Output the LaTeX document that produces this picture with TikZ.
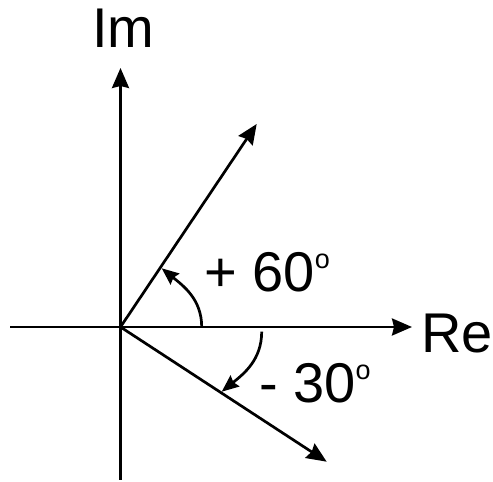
\documentclass[tikz,border=0pt]{standalone}
\usepackage{fontspec}
\setmainfont{Liberation Sans}
\usetikzlibrary{arrows.meta}
\newcommand{\degsup}{\raisebox{0.42em}{\fontsize{27}{27}\selectfont o}}
\begin{document}
\begin{tikzpicture}[x=1pt,y=1pt,
  axis/.style={line width=2.7pt, -{Stealth[length=20pt,width=17pt,inset=2pt]}},
  angarc/.style={line width=2.7pt, -{Stealth[length=17pt,width=14pt,inset=2pt]}},
  lbl/.style={inner sep=0pt, font=\fontsize{56}{60}\selectfont}]
\useasboundingbox (0,0) rectangle (493,482);
\coordinate (O) at (120.5,155);
\coordinate (xl) at (10,155);
\coordinate (xr) at (412,155);
\coordinate (yb) at (120.5,2);
\coordinate (yt) at (120.5,414);
\coordinate (v1) at (256.7,358);
\coordinate (v2) at (326.7,20.3);
\coordinate (a1s) at (201.7,155);
\coordinate (a1e) at (161.7,213.7);
\coordinate (a2s) at (261.7,150.3);
\coordinate (a2e) at (221.7,90.3);
\draw[axis] (xl) -- (xr);
\draw[axis] (yb) -- (yt);
\draw[axis] (O) -- (v1);
\draw[axis] (O) -- (v2);
\draw[angarc] (a1s) to[out=90,in=-39] (a1e);
\draw[angarc] (a2s) to[out=-90,in=39] (a2e);
\node[lbl, anchor=base] (im) at (123.5,434) {Im};
\node[lbl, anchor=base west] (re) at (421,129) {Re};
\node[lbl, anchor=base west] (p60) at (204,190) {+ 60\degsup};
\node[lbl, anchor=base west] (m30) at (259,79) {- 30\degsup};
\end{tikzpicture}
\end{document}
